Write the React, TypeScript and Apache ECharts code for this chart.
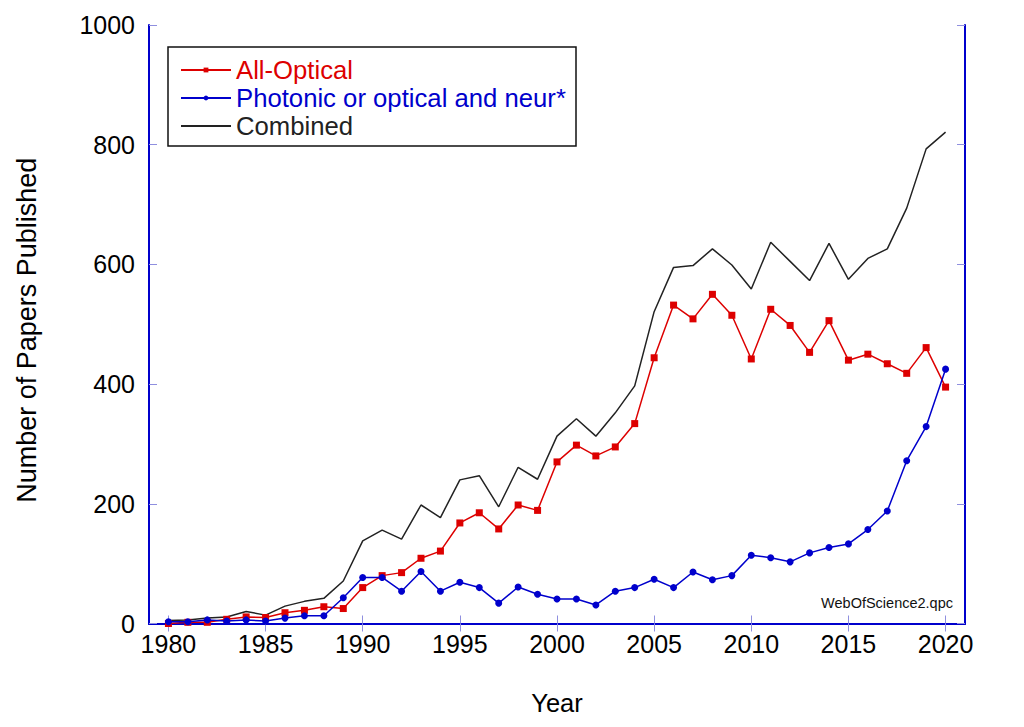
import React, { useEffect, useRef } from "react";
import * as echarts from "echarts";

const years = [
  1980, 1981, 1982, 1983, 1984, 1985, 1986, 1987, 1988, 1989, 1990, 1991, 1992, 1993,
  1994, 1995, 1996, 1997, 1998, 1999, 2000, 2001, 2002, 2003, 2004, 2005, 2006, 2007,
  2008, 2009, 2010, 2011, 2012, 2013, 2014, 2015, 2016, 2017, 2018, 2019, 2020,
];
const allOptical = [
  0, 2, 2, 7, 11, 10, 18, 22, 28, 25, 60, 80, 85, 109, 121, 168, 185, 158, 198, 189,
  270, 298, 280, 295, 334, 444, 532, 509, 550, 515, 442, 525, 498, 453, 506, 440, 450,
  434, 418, 461, 395,
];
const photonic = [
  3, 3, 6, 4, 6, 4, 9, 13, 13, 43, 77, 77, 54, 87, 54, 69, 60, 34, 61, 49, 41, 41, 31,
  54, 60, 74, 60, 86, 73, 80, 114, 110, 103, 118, 127, 133, 157, 188, 272, 329, 425,
];
const combined = [
  5, 6, 9, 11, 20, 14, 29, 37, 42, 71, 138, 156, 141, 198, 177, 240, 247, 195, 261, 241,
  313, 342, 313, 352, 397, 521, 595, 598, 626, 599, 559, 637, 605, 573, 635, 575, 610,
  626, 694, 793, 821,
];
const xTicks = [1980, 1985, 1990, 1995, 2000, 2005, 2010, 2015, 2020];
const seriesNames = ["All-Optical", "Photonic or optical and neur*", "Combined"];

const RED = "#dd0000";
const BLUE = "#0000cc";
const BLACK = "#222222";
const FONT = "'Liberation Sans', Arial, sans-serif";

export default function App() {
  const ref = useRef<HTMLDivElement>(null);
  useEffect(() => {
    if (!ref.current) return;
    const chart = echarts.init(ref.current, null, { renderer: "svg" });
    const pairs = (vals: number[]) => years.map((y, i) => [y, vals[i]]);
    const axisLine = { show: true, lineStyle: { color: BLUE, width: 2 } };
    const tick = { show: true, inside: true, length: 8, lineStyle: { color: "#8f8fdf", width: 1 } };
    const plain = (v: number) => String(v);
    chart.setOption({
      animation: false,
      textStyle: { fontFamily: FONT },
      grid: { left: 149, right: 59, top: 25, bottom: 103.5, containLabel: false },
      legend: {
        orient: "vertical",
        left: 180,
        top: 57,
        padding: 0,
        itemGap: 2,
        itemWidth: 50,
        itemHeight: 6,
        textStyle: { fontSize: 25.7, fontFamily: FONT },
        data: [
          { name: seriesNames[0], textStyle: { color: RED } },
          { name: seriesNames[1], textStyle: { color: BLUE } },
          {
            name: seriesNames[2],
            textStyle: { color: BLACK },
            itemStyle: { color: "rgba(0,0,0,0)", borderWidth: 0, opacity: 0 },
          },
        ],
      },
      graphic: [
        {
          type: "rect",
          shape: { x: 168, y: 47, width: 408, height: 99 },
          style: { fill: "#fff", stroke: "#111", lineWidth: 1.5 },
          z: 1,
        },
        {
          type: "text",
          x: 953,
          y: 603,
          style: {
            text: "WebOfScience2.qpc",
            fontSize: 14.5,
            fontFamily: FONT,
            fill: "#111",
            align: "right",
            verticalAlign: "middle",
          },
        },
      ],
      xAxis: [
        {
          type: "value",
          min: 1979,
          max: 2021,
          position: "bottom",
          name: "Year",
          nameLocation: "middle",
          nameGap: 66,
          nameTextStyle: { fontSize: 25.5, color: "#000", fontFamily: FONT },
          axisLine,
          axisTick: { ...tick, customValues: xTicks },
          axisLabel: {
            customValues: xTicks,
            formatter: plain,
            fontSize: 25,
            color: "#000",
            margin: 8,
            fontFamily: FONT,
          },
          splitLine: { show: false },
        },
        {
          type: "value",
          min: 1979,
          max: 2021,
          position: "top",
          axisLine,
          axisTick: { ...tick, customValues: xTicks },
          axisLabel: { show: false },
          splitLine: { show: false },
        },
      ],
      yAxis: [
        {
          type: "value",
          min: 0,
          max: 1000,
          interval: 200,
          position: "left",
          name: "Number of Papers Published",
          nameLocation: "middle",
          nameGap: 109,
          nameTextStyle: {
            fontSize: 27,
            color: "#000",
            fontFamily: FONT,
            padding: [0, 12, 0, 0],
          },
          axisLine,
          axisTick: tick,
          axisLabel: { formatter: plain, fontSize: 25, color: "#000", margin: 14, fontFamily: FONT },
          splitLine: { show: false },
        },
        {
          type: "value",
          min: 0,
          max: 1000,
          interval: 200,
          position: "right",
          axisLine,
          axisTick: tick,
          axisLabel: { show: false },
          splitLine: { show: false },
        },
      ],
      series: [
        {
          name: seriesNames[2],
          type: "line",
          data: pairs(combined),
          symbol: "none",
          lineStyle: { color: BLACK, width: 1.5 },
          itemStyle: { color: BLACK },
          z: 2,
        },
        {
          name: seriesNames[0],
          type: "line",
          data: pairs(allOptical),
          symbol: "rect",
          symbolSize: 7,
          lineStyle: { color: RED, width: 1.5 },
          itemStyle: { color: RED },
          z: 3,
        },
        {
          name: seriesNames[1],
          type: "line",
          data: pairs(photonic),
          symbol: "circle",
          symbolSize: 7,
          lineStyle: { color: BLUE, width: 1.5 },
          itemStyle: { color: BLUE },
          z: 4,
        },
      ],
    });
    return () => chart.dispose();
  }, []);
  return (
    <div
      ref={ref}
      style={{ position: "fixed", left: 0, top: 0, width: 1024, height: 727, background: "#fff" }}
    />
  );
}
